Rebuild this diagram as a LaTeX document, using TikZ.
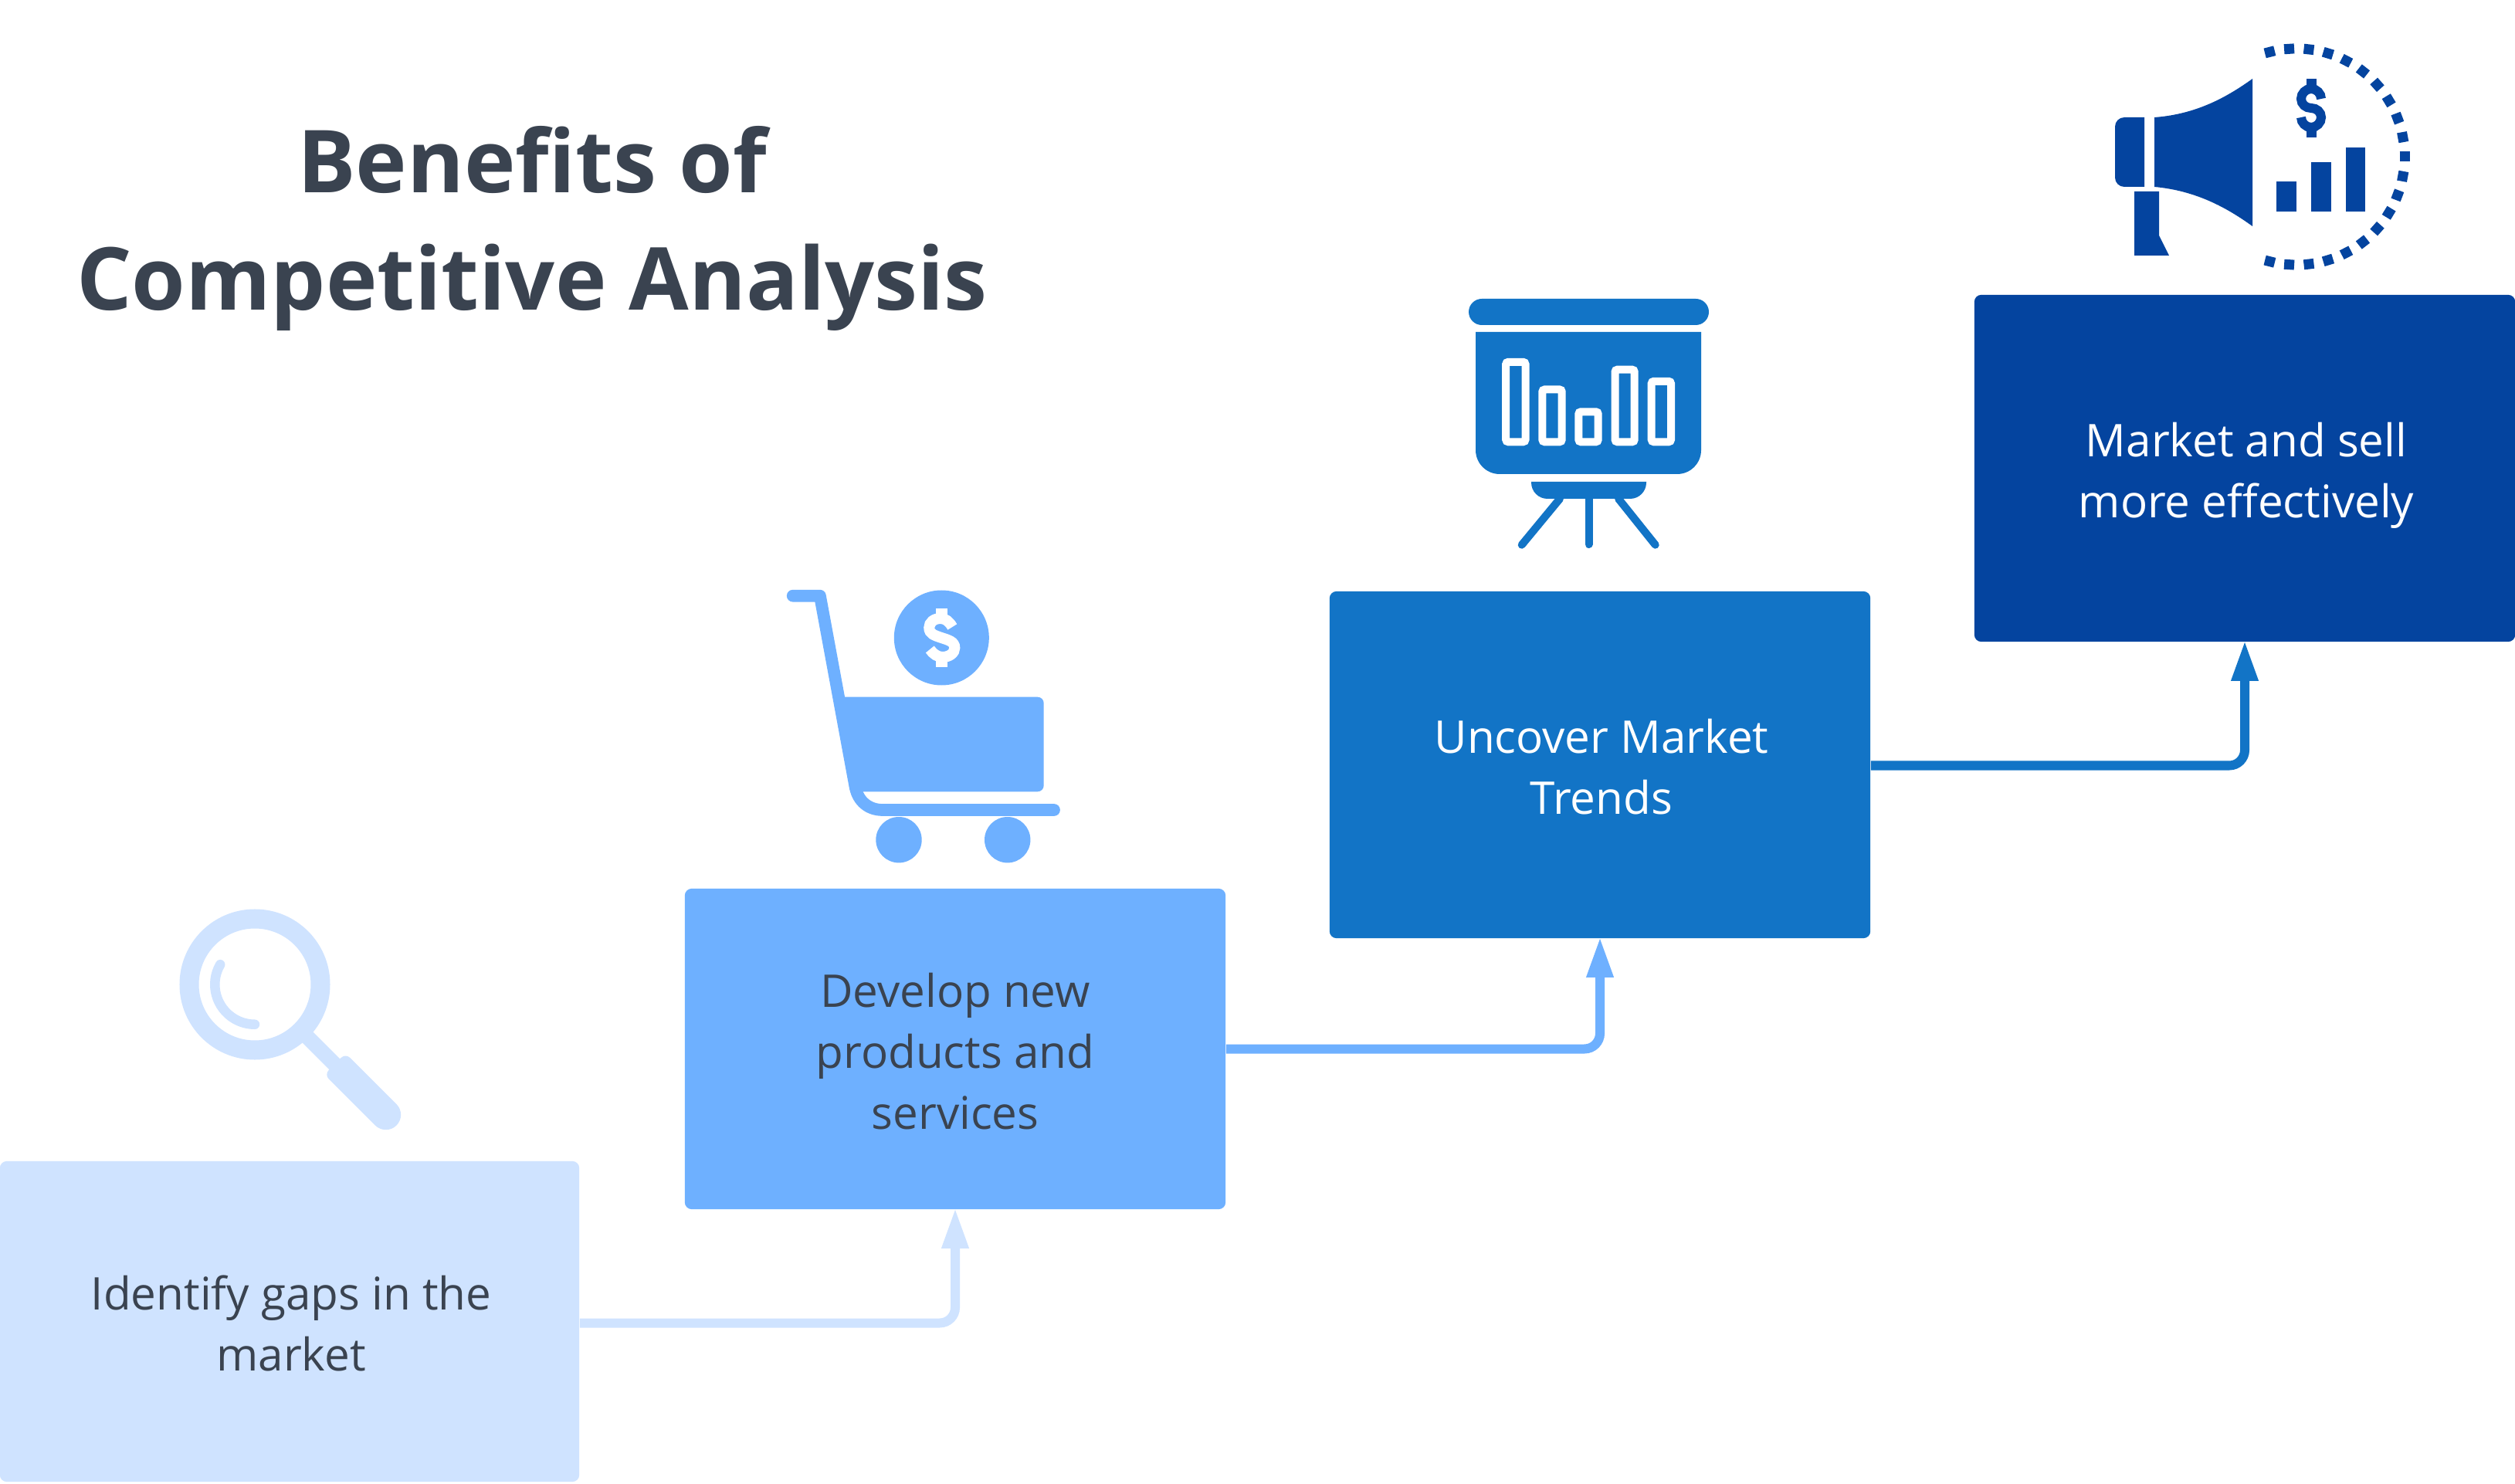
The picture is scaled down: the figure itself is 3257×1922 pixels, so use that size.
\documentclass[tikz,border=0pt]{standalone}
\usepackage{fontspec}
\setmainfont{Open Sans}
\usetikzlibrary{arrows.meta}
\definecolor{paleblue}{HTML}{CFE3FF}
\definecolor{skyblue}{HTML}{6EB0FF}
\definecolor{midblue}{HTML}{1274C6}
\definecolor{navyblue}{HTML}{04449F}
\definecolor{slatetext}{HTML}{3A4350}
\newcommand{\lstrut}{\rule[-0.25em]{0pt}{1.35em}}
\newcommand{\nudge}{\hspace*{0.04cm}}
\tikzset{
  boxnode/.style={rectangle,rounded corners=0.09cm,inner sep=0pt,align=center,
    font=\fontsize{16.6}{22.5}\selectfont,text=slatetext},
  conn/.style={line width=0.12cm,rounded corners=0.2cm,shorten >=-0.03cm,
    -{Triangle[length=0.53cm,width=0.32cm]}},
  titlenode/.style={align=center,text=slatetext,inner sep=0pt,
    font=\fontsize{32}{43}\selectfont\bfseries}
}
\newcommand{\plaindollar}[1]{%
  \fill[#1] (-6.5,-38) rectangle (6.5,-27);
  \fill[#1] (-6.5,27) rectangle (6.5,38);
  \draw[#1,line width=0.12cm] (13,-12) .. controls (13,-19) and (7,-25) .. (0,-25)
    .. controls (-7,-25) and (-13,-19) .. (-13,-12)
    .. controls (-13,-5) and (-7,0) .. (0,0)
    .. controls (7,0) and (13,5) .. (13,12)
    .. controls (13,19) and (7,25) .. (0,25)
    .. controls (-7,25) and (-13,19) .. (-13,12);
}
\newcommand{\slantdollar}[1]{%
  \fill[#1] (-7.5,-38) rectangle (7.5,-29);
  \fill[#1] (-7.5,29) rectangle (7.5,38);
  \draw[#1,line width=0.14cm] (14,-14) .. controls (10,-21) and (5,-25) .. (-1,-25)
    .. controls (-10,-25) and (-16,-20) .. (-16,-13)
    .. controls (-16,-5) and (-9,-3) .. (0,0)
    .. controls (9,3) and (17,5) .. (17,13)
    .. controls (17,20) and (10,25) .. (1,25)
    .. controls (-5,25) and (-11,21) .. (-15,15);
}
\begin{document}
\begin{tikzpicture}[x=0.01cm,y=-0.01cm]
\useasboundingbox (0,0) rectangle (3257,1922);
\fill[white] (0,0) rectangle (3257,1922);

% title
\node[titlenode] (title) at (689,296) {Benefits of\\Competitive Analysis};

% boxes
\node[boxnode,fill=paleblue,minimum width=7.5cm,minimum height=4.15cm] (b1) at (375,1711.5)
  {\nudge\lstrut Identify gaps in the\\\nudge market\lstrut};
\node[boxnode,fill=skyblue,minimum width=7cm,minimum height=4.15cm] (b2) at (1237,1358.5)
  {\lstrut Develop new\\products and\\services\lstrut};
\node[boxnode,fill=midblue,minimum width=7cm,minimum height=4.49cm,text=white] (b3) at (2072,990.5)
  {\nudge\lstrut Uncover Market\\\nudge Trends\lstrut};
\node[boxnode,fill=navyblue,minimum width=7cm,minimum height=4.49cm,text=white] (b4) at (2907,606.5)
  {\nudge\lstrut Market and sell\\\nudge more effectively\lstrut};

% connectors
\draw[conn,draw=paleblue] ([yshift=-0.02cm]b1.east) -| (b2.south);
\draw[conn,draw=skyblue] (b2.east) -| (b3.south);
\draw[conn,draw=midblue] ([yshift=-0.01cm]b3.east) -| (b4.south);

% magnifier
\draw[paleblue,line width=0.25cm] (330,1275) circle[radius=85];
\draw[paleblue,line width=0.125cm,line cap=round] (285.2,1249.2) arc[start angle=210,end angle=90,radius=51.7];
\draw[paleblue,line width=0.195cm] (390,1335) -- (440,1385);
\fill[paleblue] (447.5,1364.2) [rounded corners=0.195cm] -- (527.2,1443.8) -- (499.7,1471.3) [rounded corners=0.08cm] -- (420,1391.7) -- cycle;

% cart
\draw[skyblue,line width=0.157cm,line cap=round,line join=round] (1026.7,771.7) -- (1061.9,771.7) -- (1107.7,1020)
  .. controls (1111.7,1038.3) and (1125,1049) .. (1143.3,1049) -- (1365,1049);
\fill[skyblue] (1086,902.7) [rounded corners=0.08cm] -- (1351.7,902.7) -- (1351.7,1025.3) [sharp corners] -- (1107,1025.3) -- cycle;
\fill[skyblue] (1219.3,826) circle[radius=61.5];
\begin{scope}[shift={(1219.3,826)}]\slantdollar{white}\end{scope}
\fill[skyblue] (1164,1087.7) circle[radius=29.7];
\fill[skyblue] (1304.7,1087.7) circle[radius=29.7];

% presentation board
\fill[midblue,rounded corners=0.17cm] (1902,387) rectangle (2213,421);
\fill[midblue] (1911,430) -- (2203,430) [rounded corners=0.31cm] -- (2203,614) -- (1911,614) [sharp corners] -- cycle;
\begin{scope}[draw=white,line width=0.1cm,rounded corners=0.03cm]
\draw (1950.2,468.8) rectangle (1975.5,572.3);
\draw (1997.3,504.5) rectangle (2022.7,572.3);
\draw (2044.3,533.3) rectangle (2069.7,572.3);
\draw (2091.5,478.7) rectangle (2116.7,572.3);
\draw (2138.7,493.8) rectangle (2164,572.3);
\end{scope}
\fill[midblue] (1983,624) -- (2132,624) [rounded corners=0.21cm] -- (2132,646) -- (1983,646) [sharp corners] -- cycle;
\draw[midblue,line width=0.1cm,line cap=round] (2057.5,640) -- (2057.5,705);
\draw[midblue,line width=0.1cm,line cap=round] (2020,646) -- (1970.7,705.7);
\draw[midblue,line width=0.1cm,line cap=round] (2096,646) -- (2143.7,705.7);

% megaphone
\fill[navyblue] (2777,152) [rounded corners=0.12cm] -- (2739,152) -- (2739,242) [sharp corners] -- (2777,242) -- cycle;
\fill[navyblue] (2790,152) .. controls (2845,148) and (2885,125) .. (2917,102) -- (2917,293)
  .. controls (2885,270) and (2845,247) .. (2790,242) -- cycle;
\fill[navyblue] (2764,248) -- (2796,248) -- (2796,305) -- (2809,331) -- (2764,331) -- cycle;
\fill[navyblue] (2948,235) rectangle (2974,274);
\fill[navyblue] (2993,210) rectangle (3019,274);
\fill[navyblue] (3038,191) rectangle (3063,274);
\begin{scope}[shift={(2993,140)}]\plaindollar{navyblue}\end{scope}
\begin{scope}[shift={(2974,203)}]
\foreach \k in {-10,...,10}
  \draw[navyblue,line width=0.13cm] ({\k*10.43}:133.5) -- ({\k*10.43}:146.5);
\end{scope}
\end{tikzpicture}
\end{document}
